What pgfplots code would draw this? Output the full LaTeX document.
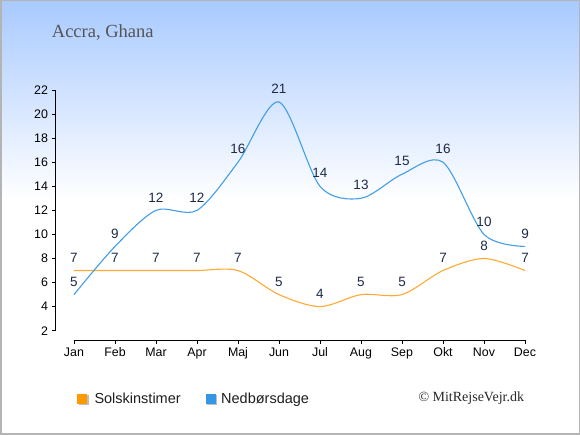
\documentclass[border=0pt]{standalone}
\usepackage{fontspec}
\setmainfont{Liberation Sans}
\newfontfamily\serifttl{Liberation Serif}
\usepackage{pgfplots}
\pgfplotsset{compat=1.18}
\definecolor{bgtop}{RGB}{168,202,255}
\definecolor{sunc}{RGB}{255,170,51}
\definecolor{rainc}{RGB}{66,158,232}
\definecolor{sunsq}{RGB}{255,153,0}
\definecolor{rainsq}{RGB}{51,150,230}
\definecolor{lbl}{RGB}{30,42,72}
\definecolor{frame}{RGB}{180,180,180}
\begin{document}
\begin{tikzpicture}[x=1pt,y=1pt]
\fill[white] (0pt,0pt) rectangle (580pt,435pt);
\shade[top color=bgtop,bottom color=white] (0pt,235pt) rectangle (580pt,435pt);
\begin{axis}[at={(55.5pt,95pt)}, anchor=south west, scale only axis,
 width=469.5pt, height=250pt,
 xmin=-0.451, xmax=11, ymin=1.227, ymax=22,
 axis x line=bottom, axis y line=left, axis line style={draw=none},
 tick align=outside, major tick length=4pt, tick style={black, line width=0.8pt},
 xtick={0,...,11}, xticklabels={Jan,Feb,Mar,Apr,Maj,Jun,Jul,Aug,Sep,Okt,Nov,Dec},
 ytick={2,4,...,22},
 ticklabel style={font=\fontsize{12.4}{14}\selectfont, text=black},
 /pgf/number format/assume math mode=true,
 clip=false,
 nodes near coords,
 every node near coord/.append style={anchor=center, yshift=13pt, font=\fontsize{13.5}{15}\selectfont, text=lbl},
]
\draw[black, line width=0.8pt] (axis cs:0,1.227) -- (axis cs:11,1.227);
\draw[black, line width=0.8pt] (axis cs:-0.451,2) -- (axis cs:-0.451,22);
\addplot[sunc, line width=1.1pt, smooth, mark=none] coordinates {
(0,7) (1,7) (2,7) (3,7) (4,7) (5,5) (6,4) (7,5) (8,5) (9,7) (10,8) (11,7)};
\addplot[rainc, line width=1.1pt, smooth, mark=none] coordinates {
(0,5) (1,9) (2,12) (3,12) (4,16) (5,21) (6,14) (7,13) (8,15) (9,16) (10,10) (11,9)};
\end{axis}
\node[anchor=base west, inner sep=0, text={rgb,255:red,85;green,85;blue,85}, font=\serifttl\fontsize{18.5}{20}\selectfont] at (51.7pt,397.3pt) {Accra, Ghana};
\fill[black!25] (78.5pt,29.5pt) rectangle (88.5pt,39.5pt);
\fill[sunsq] (77pt,31pt) rectangle (87pt,41pt);
\node[anchor=base west, inner sep=0, text={rgb,255:red,30;green,30;blue,30}, font=\fontsize{14.5}{16}\selectfont] at (94.3pt,31.7pt) {Solskinstimer};
\fill[black!25] (207.2pt,29.5pt) rectangle (217.2pt,39.5pt);
\fill[rainsq] (205.7pt,31pt) rectangle (215.7pt,41pt);
\node[anchor=base west, inner sep=0, text={rgb,255:red,30;green,30;blue,30}, font=\fontsize{14.5}{16}\selectfont] at (221pt,31.7pt) {Nedbørsdage};
\node[anchor=base west, inner sep=0, text={rgb,255:red,40;green,40;blue,40}, font=\serifttl\fontsize{14}{16}\selectfont] at (418.3pt,33.3pt) {© MitRejseVejr.dk};
\draw[frame, line width=1.5pt] (0.75pt,0.75pt) rectangle (579.25pt,434.25pt);
\end{tikzpicture}
\end{document}
